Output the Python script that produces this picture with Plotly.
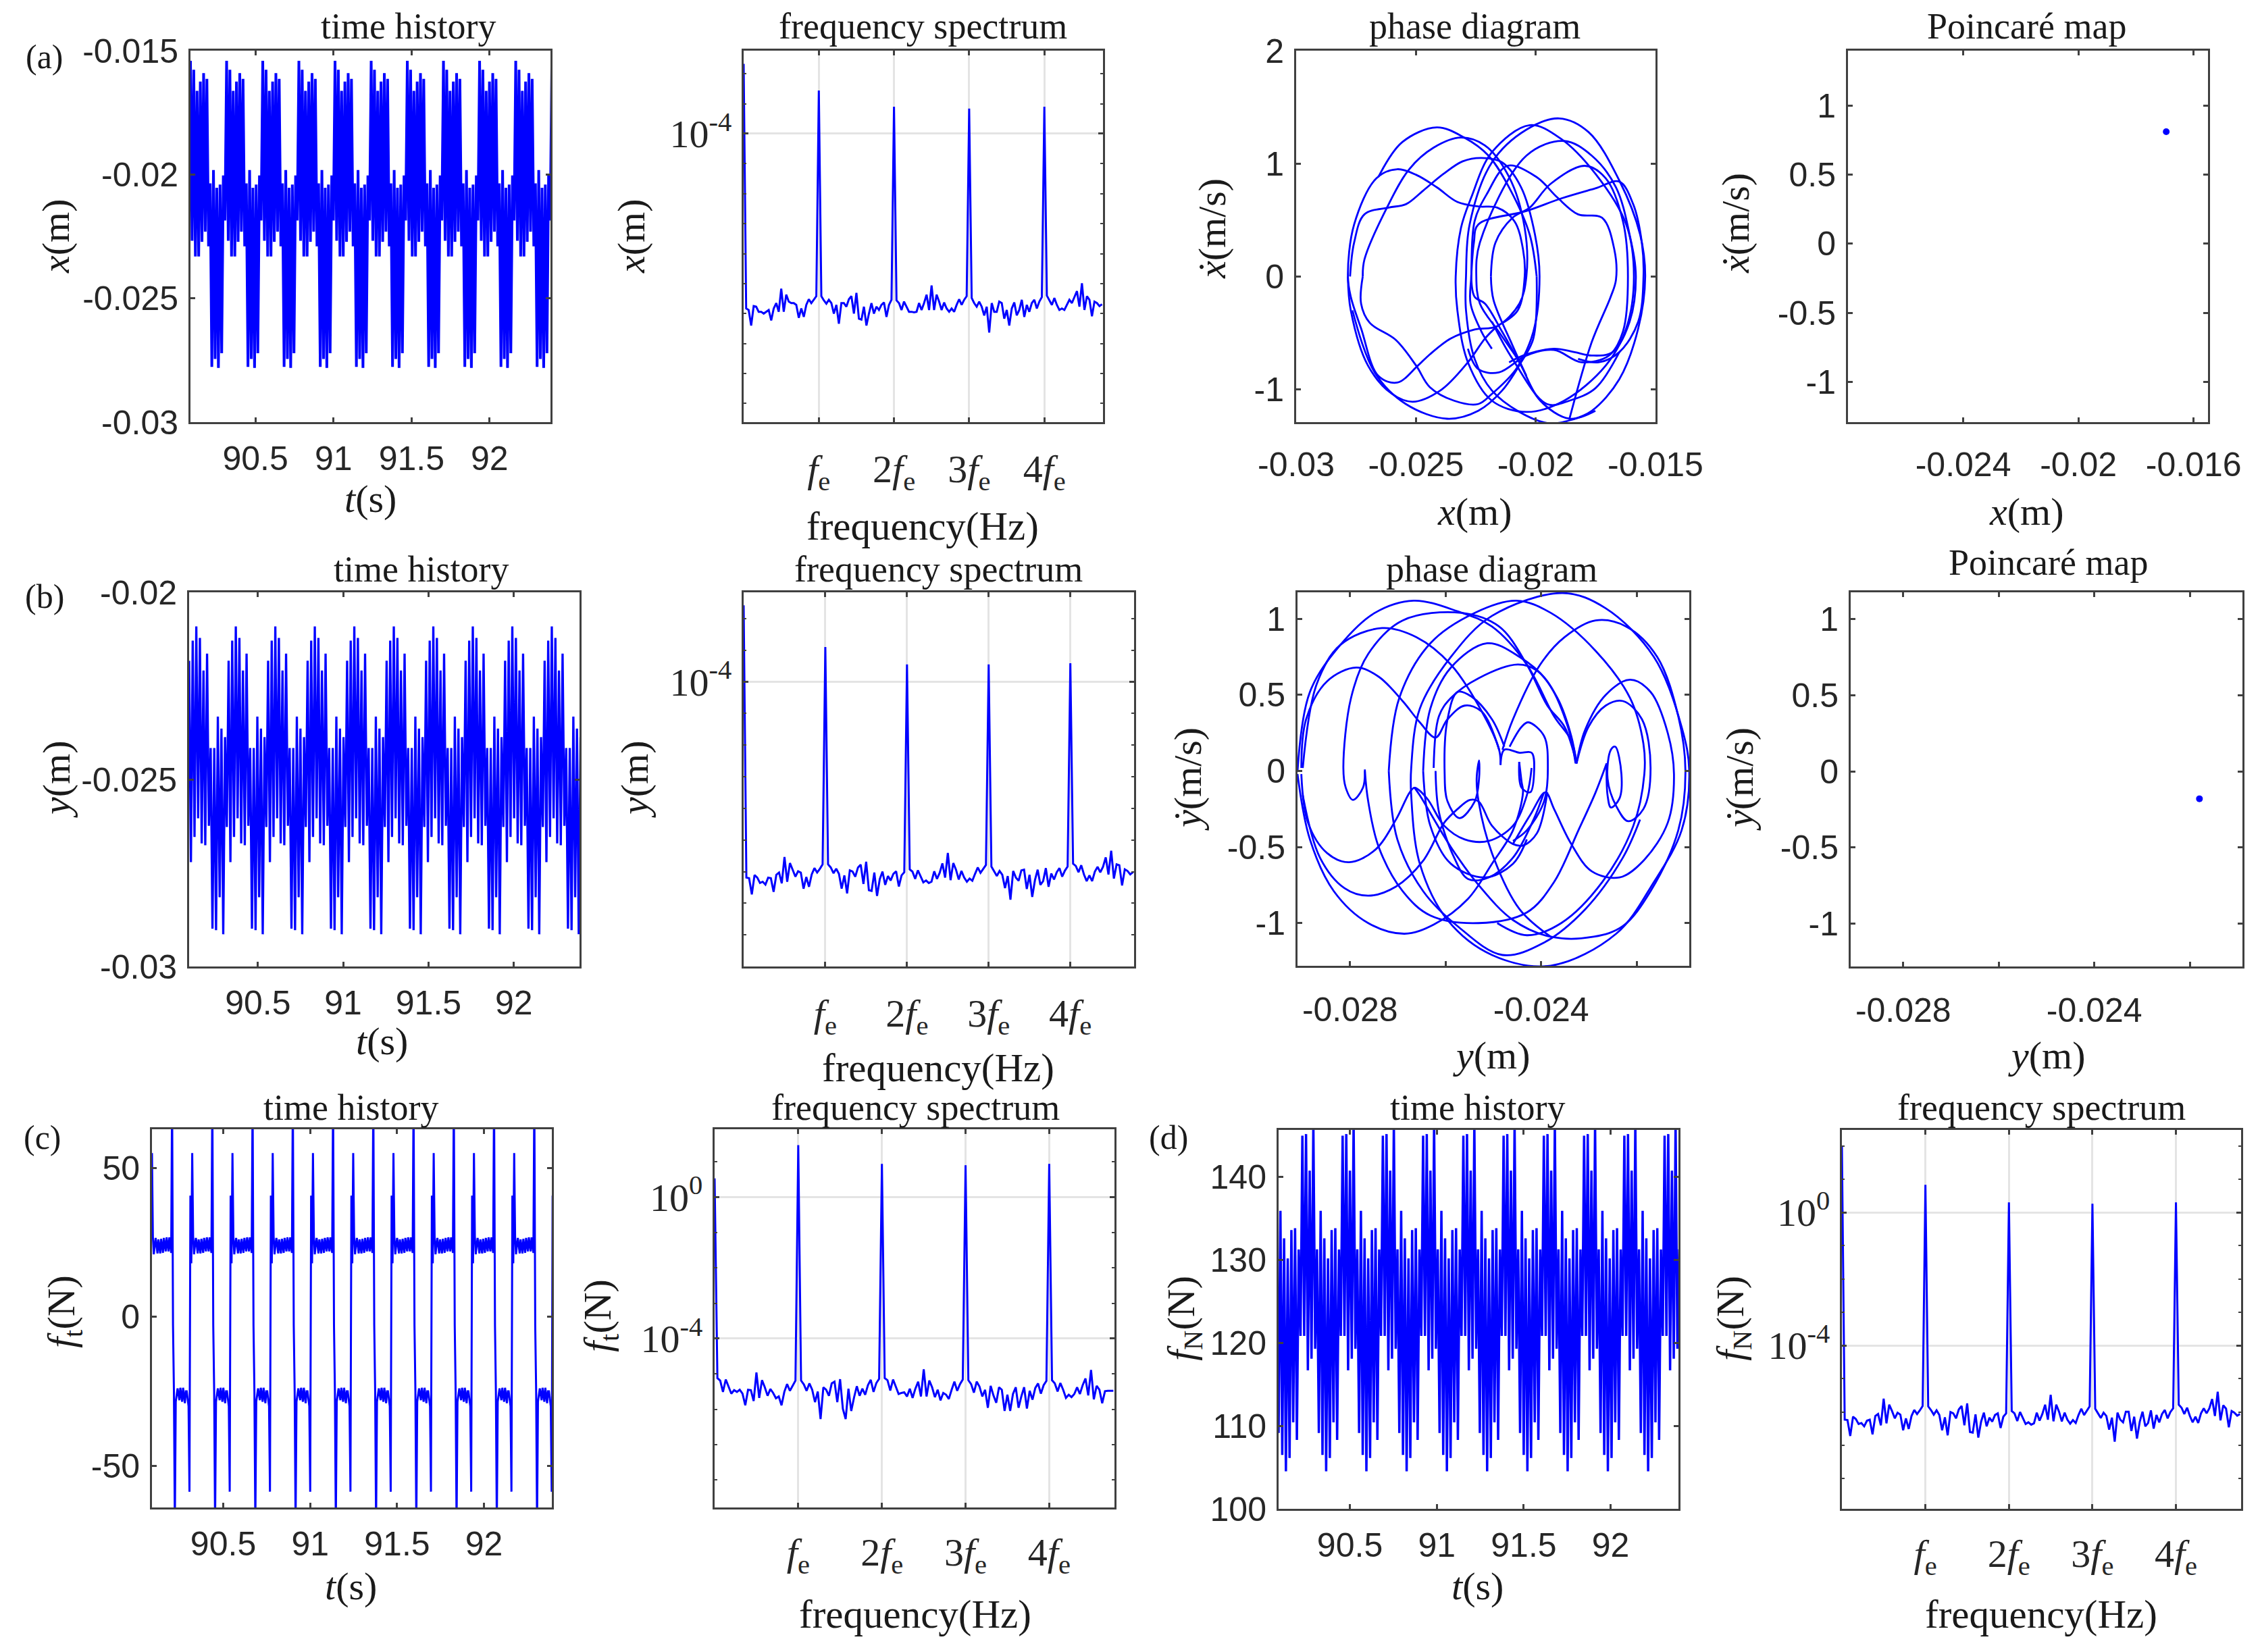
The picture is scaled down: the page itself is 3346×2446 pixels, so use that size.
import numpy as np
import plotly.graph_objects as go

W, H = 3330, 2430  # page is 3346x2446, the browser keeps an 8 px body margin
PAGE_MARGIN = 8
BLUE = '#0000ff'
AXIS = '#404040'
GRID = '#e4e4e4'
SANS = 'Liberation Sans'
SERIF = 'Liberation Serif'

# time histories: one period, the response repeats it
t_start = 90.09
period = 0.2315
n_periods = 10
x_period = [-0.01541, -0.02268, -0.01577, -0.02331, -0.01662, -0.02331, -0.01625, -0.02272, -0.01591, -0.02231, -0.01614,
            -0.02290, -0.02036, -0.02777, -0.01982, -0.02745, -0.02054, -0.02781, -0.02041, -0.02722, -0.02004, -0.02186]
y_period = [-0.02183, -0.02721, -0.02129, -0.02654, -0.02091, -0.02604, -0.02122, -0.02671, -0.02209, -0.02676, -0.02164,
            -0.02624, -0.02416, -0.02899, -0.02416, -0.02903, -0.02332, -0.02815, -0.02364, -0.02914, -0.02387, -0.02627]
ft_period = [55, 27, 21, 24, 26.5, 24, 21.3, 26, 24, 21.3, 26.2, 24, 21.5, 26.5, 24, 22, 26.7, 24, 22, 26.7, 24, 21.5,
             75, -2.9, -25, -70, -28.5, -26, -24, -26, -28, -23.8, -26, -28.5, -23.8, -26, -29, -25, -25, -27.5,
             -30, -58.7, 40.7, 18]
fn_period = [109.15, 135.95, 106.5, 132.63, 104.53, 130.2, 106.13, 133.63, 110.42, 133.84, 108.31,
             131.27, 120.85, 145.0, 120.85, 145.2, 116.7, 140.8, 118.1, 146.5, 119.3, 131.3]

# spectra: log10 of the amplitude, 30 bins per excitation frequency
fe = 1 / period
bins_per_fe = 30
log_amp_x = [-1.67,
    -9.83, -9.88, -10.40, -9.75, -9.77, -9.94, -9.94, -10.00, -9.94, -9.88, -10.23, -9.83, -9.65, -9.94, -9.17, -9.94, -9.37, -9.60, -9.65, -9.65, -9.71, -10.14, -9.83, -10.11, -9.71, -9.52, -9.65, -9.54, -9.42,
    -2.56,
    -9.42, -9.56, -9.67, -9.54, -9.65, -10.00, -9.71, -10.34, -9.65, -9.65, -9.77, -9.52, -9.42, -10.00, -9.31, -10.17, -10.20, -9.77, -10.40, -10.00, -9.65, -10.00, -9.77, -9.88, -9.71, -9.63, -10.11, -9.71, -9.54,
    -3.10,
    -9.56, -9.65, -9.88, -9.60, -9.77, -9.94, -9.94, -9.96, -9.94, -9.65, -9.88, -9.65, -9.37, -9.88, -9.06, -9.88, -9.37, -9.60, -9.88, -9.63, -9.83, -9.94, -9.83, -9.94, -9.71, -9.52, -9.71, -9.54, -9.42,
    -3.16,
    -9.48, -9.65, -9.77, -9.60, -9.77, -10.06, -9.77, -10.63, -9.65, -9.94, -9.94, -9.60, -9.65, -10.17, -9.88, -10.40, -9.83, -9.63, -10.06, -9.88, -9.54, -10.11, -9.71, -9.94, -9.65, -9.54, -9.83, -9.60, -9.45,
    -3.10,
    -9.40, -9.54, -9.71, -9.48, -9.71, -9.88, -9.83, -9.88, -9.71, -9.54, -9.65, -9.45, -9.25, -9.77, -8.99, -9.88, -9.42, -9.54, -10.09, -9.60, -9.65, -9.75, -9.69]
log_amp_y = [-1.58,
    -10.19, -10.21, -10.72, -10.11, -10.19, -10.36, -10.32, -10.41, -10.19, -10.21, -10.64, -10.10, -10.03, -10.37, -9.54, -10.32, -9.73, -9.94, -10.16, -9.99, -10.03, -10.54, -10.17, -10.48, -10.09, -9.89, -10.03, -9.91, -9.77,
    -2.90,
    -9.77, -9.87, -10.05, -9.91, -10.07, -10.54, -10.12, -10.69, -9.96, -10.00, -10.16, -9.87, -9.78, -10.39, -9.69, -10.59, -10.61, -10.03, -10.77, -10.24, -10.00, -10.42, -10.14, -10.28, -10.07, -9.99, -10.47, -10.12, -10.02,
    -3.45,
    -9.93, -10.00, -10.23, -9.96, -10.16, -10.34, -10.28, -10.36, -10.32, -9.99, -10.23, -10.04, -9.74, -10.19, -9.41, -10.27, -9.73, -9.94, -10.25, -9.98, -10.19, -10.32, -10.22, -10.29, -10.07, -9.87, -10.04, -9.91, -9.79,
    -3.45,
    -9.84, -9.99, -10.14, -9.98, -10.10, -10.52, -10.14, -10.89, -9.98, -10.19, -10.29, -9.96, -9.94, -10.55, -10.10, -10.80, -10.27, -9.94, -10.42, -10.30, -9.89, -10.48, -10.06, -10.25, -10.02, -9.89, -10.16, -9.97, -9.84,
    -3.41,
    -9.75, -9.82, -10.02, -9.80, -10.09, -10.30, -10.12, -10.30, -10.00, -9.85, -10.02, -9.85, -9.55, -10.09, -9.34, -10.22, -9.77, -9.80, -10.44, -9.93, -9.98, -10.09, -10.02]
log_amp_ft = [0.53,
    -5.12, -5.19, -5.51, -5.16, -5.35, -5.56, -5.46, -5.51, -5.45, -5.56, -5.89, -5.45, -5.46, -5.77, -4.96, -5.68, -5.18, -5.38, -5.62, -5.43, -5.54, -5.69, -5.64, -5.89, -5.51, -5.29, -5.48, -5.32, -5.19,
    1.47,
    -5.19, -5.30, -5.48, -5.27, -5.45, -5.80, -5.50, -6.28, -5.38, -5.45, -5.62, -5.27, -5.22, -5.80, -5.15, -5.99, -6.28, -5.42, -6.05, -5.67, -5.35, -5.62, -5.42, -5.59, -5.32, -5.17, -5.51, -5.26, -5.14,
    0.94,
    -5.12, -5.18, -5.47, -5.16, -5.38, -5.57, -5.54, -5.52, -5.64, -5.42, -5.68, -5.42, -5.22, -5.64, -4.87, -5.64, -5.19, -5.38, -5.66, -5.45, -5.75, -5.54, -5.59, -5.71, -5.45, -5.22, -5.48, -5.29, -5.16,
    0.90,
    -5.18, -5.29, -5.53, -5.22, -5.36, -5.64, -5.45, -5.96, -5.34, -5.61, -5.82, -5.38, -5.45, -6.05, -5.59, -6.05, -5.57, -5.38, -5.96, -5.64, -5.38, -5.98, -5.48, -5.73, -5.40, -5.27, -5.56, -5.32, -5.20,
    0.94,
    -5.18, -5.27, -5.50, -5.26, -5.45, -5.68, -5.59, -5.66, -5.57, -5.38, -5.57, -5.32, -5.13, -5.61, -4.89, -5.72, -5.34, -5.45, -5.83, -5.49, -5.48, -5.48, -5.48]
log_amp_fn = [2.0,
    -6.23, -6.24, -6.72, -6.14, -6.21, -6.36, -6.33, -6.43, -6.26, -6.23, -6.67, -6.12, -6.06, -6.40, -5.60, -6.34, -5.78, -5.97, -6.19, -6.02, -6.08, -6.55, -6.19, -6.51, -6.12, -5.94, -6.06, -5.95, -5.82,
    0.83,
    -5.83, -5.94, -6.08, -5.95, -6.09, -6.55, -6.16, -6.70, -6.00, -6.04, -6.19, -5.92, -5.82, -6.40, -5.74, -6.60, -6.62, -6.07, -6.77, -6.29, -6.02, -6.43, -6.17, -6.29, -6.09, -6.04, -6.48, -6.14, -6.04,
    0.30,
    -5.97, -6.04, -6.27, -6.00, -6.19, -6.36, -6.31, -6.38, -6.34, -6.02, -6.26, -6.06, -5.78, -6.23, -5.48, -6.28, -5.78, -5.99, -6.28, -6.02, -6.23, -6.35, -6.24, -6.33, -6.09, -5.90, -6.09, -5.95, -5.83,
    0.26,
    -5.90, -6.04, -6.18, -6.02, -6.12, -6.53, -6.17, -6.89, -6.02, -6.23, -6.31, -5.99, -5.99, -6.57, -6.14, -6.80, -6.29, -5.99, -6.43, -6.33, -5.95, -6.50, -6.09, -6.31, -6.06, -5.94, -6.19, -6.00, -5.89,
    0.30,
    -5.78, -5.87, -6.06, -5.87, -6.12, -6.31, -6.14, -6.33, -6.04, -5.89, -6.04, -5.89, -5.61, -6.12, -5.39, -6.25, -5.80, -5.90, -6.46, -5.97, -6.02, -6.11, -6.06]

# phase diagrams, traced arc by arc, None separates the arcs
phase_x = [
    -.02722, -.02715, -.02621, -.02528, -.02427, -.02312, -.02212, -.02111, -.02046, -.02039, -.02068, -.02161, -.02255, -.02355, -.02442, -.02492, -.02578, -.02657, -.02729, -.02772, -.02784, -.02758, -.02665, -.02578, -.02499, -.02413, -.02327, -.02240, -.02161, -.02089, -.02053, -.02046, -.02075, -.02154, None,
    -.02775, -.02758, -.02715, -.02614, -.02542, -.02470, -.02384, -.02305, -.02226, -.02140, -.02061, -.02003, -.01984, -.02010, -.02082, -.02183, -.02240, -.02341, -.02442, -.02499, -.02585, -.02693, -.02729, -.02722, None,
    -.02784, -.02772, -.02700, -.02600, -.02514, -.02398, -.02283, -.02212, -.02161, None,
    -.02765, -.02672, -.02542, -.02370, -.02240, -.02140, -.02061, -.02010, -.01996, None,
    -.02657, -.02557, -.02413, -.02298, -.02197, -.02104, -.02025, -.01996, None,
    -.02334, -.02312, -.02269, -.02183, -.02025, -.01895, -.01751, -.01622, -.01590, -.01622, -.01708, -.01881, -.02039, -.02183, -.02283, -.02327, -.02334, None,
    -.02291, -.02276, -.02183, -.02039, -.01902, -.01780, -.01651, -.01564, -.01543, -.01572, -.01651, -.01766, -.01852, -.01946, -.02068, -.02183, -.02255, -.02291, -.02291, None,
    -.02183, -.02226, -.02272, -.02269, -.02255, -.02204, -.02118, -.01996, -.01910, -.01823, -.01723, -.01672, -.01665, -.01687, -.01766, -.01859, None,
    -.02269, -.02258, -.02240, -.02039, -.01895, -.01751, -.01651, -.01593, -.01557, -.01550, -.01572, -.01651, -.01737, -.01823, None,
    -.02187, -.02168, -.02097, -.02025, -.01938, -.01795, -.01708, -.01636, -.01615, -.01636, -.01694, -.01809, -.01924, -.02039, -.02154, -.02240, -.02283, None,
    -.02075, -.02154, -.02233, -.02248, -.02233, -.02039, -.01881, -.01766, -.01665, -.01608, -.01582, -.01608, -.01679, -.01766, -.01838, -.01924, -.02039, -.02111, None,
    -.02183, -.02097, -.01953, -.01859, -.01751, -.01651, None,
    -.02269, -.02255, -.02212, -.02140, -.02061, -.01981, -.01859, -.01751, None,
    -.02187, -.02176, -.02097, -.02039]
phase_xdot = [
    0, .15, .61, .95, 1.14, 1.23, 1.16, .88, .43, 0, -.24, -.44, -.47, -.55, -.69, -.79, -.94, -.88, -.46, -.18, 0, .46, .87, .95, .90, .79, .66, .62, .61, .49, .24, 0, -.30, -.43, None,
    0, .30, .55, .61, .64, .76, .91, 1.02, 1.05, 1.01, .79, .37, 0, -.49, -.82, -1.04, -1.13, -1.10, -.98, -.79, -.56, -.41, -.24, 0, None,
    0, -.30, -.79, -1.04, -1.11, -1.01, -.76, -.55, -.44, None,
    -.30, -.85, -1.13, -1.26, -1.19, -1.01, -.76, -.55, 0, None,
    .88, 1.19, 1.32, 1.23, 1.07, .76, .37, 0, None,
    0, .43, .70, 1.10, 1.34, 1.22, .91, .46, 0, -.46, -.79, -1.10, -1.20, -1.10, -.76, -.30, 0, None,
    0, .46, 1.01, 1.30, 1.40, 1.28, .85, .37, 0, -.46, -.91, -1.19, -1.27, -1.30, -1.20, -1.01, -.73, -.30, 0, None,
    -.64, -.49, -.24, 0, .49, .73, .98, .88, .70, .55, .52, .24, -.03, -.18, -.58, -1.26, None,
    0, .30, .46, .58, .69, .78, .84, .64, .30, 0, -.40, -.67, -.76, -.73, None,
    0, .30, .52, .61, .82, .98, .87, .49, 0, -.49, -.70, -.76, -.65, -.70, -.85, -.82, -.64, None,
    -.73, -.49, -.24, 0, .30, 1.07, 1.20, 1.07, .79, .37, 0, -.40, -.67, -.70, -.67, -.64, -.69, -.76, None,
    -.40, -.73, -1.13, -1.10, -.99, -.67, None,
    0, -.18, -.24, -.49, -.79, -1.10, -1.26, -1.19, None,
    0, -.21, -.61, -.88]
phase_y = [
    -.02769, -.02773, -.02794, -.02809, -.02814, -.02798, -.02762, -.02690, -.02567, -.02488, -.02430, -.02387, -.02351, -.02326, None,
    -.02910, -.02884, -.02820, -.02748, -.02667, -.02575, -.02503, -.02430, -.02373, -.02337, -.02326, None,
    -.02899, -.02870, -.02820, -.02733, -.02661, -.02589, -.02524, -.02488, -.02485, None,
    -.02902, -.02892, -.02848, -.02787, -.02740, -.02690, -.02654, -.02621, -.02596, -.02560, -.02524, -.02488, None,
    -.02902, -.02888, -.02848, -.02802, -.02748, -.02704, -.02675, -.02665, -.02639, -.02603, -.02560, -.02510, -.02459, -.02430, -.02420, None,
    -.02899, -.02863, -.02812, -.02762, -.02704, -.02647, -.02603, -.02575, -.02549, -.02531, -.02503, -.02459, -.02438, -.02409, -.02387, None,
    -.02910, -.02884, -.02834, -.02762, -.02686, -.02625, -.02553, -.02503, -.02459, -.02438, -.02441, -.02446, None,
    -.02769, -.02762, -.02740, -.02690, -.02632, -.02531, -.02430, -.02373, -.02322, -.02286, -.02263, None,
    -.02672, -.02654, -.02589, -.02503, -.02355, -.02265, -.02164, -.02106, -.02090, -.02106, -.02164, -.02243, -.02380, -.02503, -.02596, -.02654, -.02672, -.02672, None,
    -.02481, -.02459, -.02402, -.02351, -.02286, -.02222, -.02157, -.02113, -.02098, -.02113, -.02171, -.02229, -.02290, -.02380, -.02459, -.02531, -.02589, -.02654, -.02665, None,
    -.02326, -.02308, -.02265, -.02214, -.02171, -.02135, -.02122, -.02135, -.02186, -.02236, -.02294, -.02337, -.02373, -.02391, -.02423, -.02459, None,
    -.02326, -.02301, -.02265, -.02229, -.02189, -.02171, -.02186, -.02218, -.02243, -.02261, -.02254, -.02245, -.02232, -.02236, -.02254, -.02261, -.02263, None,
    -.02647, -.02632, -.02589, -.02513, -.02445, -.02387, -.02344, -.02328, None,
    -.02625, -.02614, -.02589, -.02531, -.02449, -.02409, -.02366, -.02337, -.02326, None,
    -.02621, -.02614, -.02582, -.02553, -.02510, -.02459, -.02416, -.02394, None,
    -.02647, -.02632, -.02589, -.02517, -.02459, -.02430, None,
    -.02477, -.02503, -.02546, -.02575, -.02596, -.02602, -.02596, -.02571, -.02539, -.02530, -.02530, -.02535, -.02531, -.02503, -.02445, -.02380, None,
    -.02485, -.02477, -.02445, -.02420, -.02415, -.02423, -.02441, -.02446, None,
    -.02466, -.02441, -.02427, -.02394, -.02386, -.02394, -.02430, -.02459, None,
    -.02719, -.02697, -.02632, -.02539, -.02452, -.02380, -.02286, -.02214, -.02186, -.02184, -.02207, -.02272, -.02358, -.02430, -.02492, None,
    -.02719, -.02701, -.02647, -.02575, -.02481, -.02395, -.02308, -.02229, -.02193]
phase_ydot = [
    .01, -.11, -.19, -.11, .02, .48, .77, .99, 1.04, .95, .70, .43, .29, .05, None,
    0, .52, .83, 1.04, 1.12, 1.05, .95, .70, .36, .20, .05, None,
    .02, .57, .83, .94, .88, .70, .39, .14, .04, None,
    .02, .34, .59, .68, .62, .46, .32, .22, .34, .43, .39, .14, None,
    -.02, -.34, -.54, -.60, -.52, -.32, -.14, -.11, -.18, -.36, -.45, -.46, -.36, -.16, .02, None,
    -.16, -.57, -.77, -.82, -.76, -.59, -.34, -.25, -.19, -.20, -.36, -.48, -.49, -.41, -.14, None,
    -.02, -.45, -.79, -1.0, -1.07, -1.01, -.84, -.61, -.39, -.14, -.07, .06, None,
    0, -.20, -.50, -.79, -.95, -1.0, -.93, -.73, -.39, -.14, .05, None,
    .02, .41, .75, 1.02, 1.17, 1.07, .75, .29, 0, -.39, -.73, -1.07, -1.28, -1.21, -.98, -.61, -.16, .02, None,
    .14, .34, .70, .88, .99, .95, .75, .36, 0, -.39, -.79, -1.02, -1.09, -1.09, -.98, -.75, -.50, -.16, -.11, None,
    .05, .27, .50, .60, .52, .25, -.02, -.34, -.59, -.70, -.66, -.48, -.25, -.14, -.29, -.48, None,
    .05, .29, .43, .46, .34, .02, -.25, -.33, -.23, -.05, .14, .16, -.02, -.18, -.24, -.16, .05, None,
    0, .41, .68, .84, .75, .59, .29, .05, None,
    .02, .36, .48, .61, .70, .66, .48, .23, .05, None,
    0, -.27, -.57, -.71, -.70, -.57, -.32, -.14, None,
    0, -.36, -.61, -.70, -.61, -.45, None,
    .16, .34, .49, .52, .34, -.02, -.20, -.31, -.20, -.05, .07, -.05, -.20, -.54, -.91, -1.09, None,
    .04, .14, .12, .12, -.02, -.14, -.11, .06, None,
    .16, .29, .32, .23, .02, -.20, -.39, -.46, None,
    0, .48, .84, 1.04, 1.12, 1.04, .79, .48, .18, -.02, -.36, -.73, -1.0, -1.08, -1.0, None,
    0, -.45, -.79, -1.02, -1.21, -1.13, -.91, -.57, -.32]

# Poincare points
poincare_x = [-0.01695]
poincare_xdot = [0.81]
poincare_y = [-0.0218]
poincare_ydot = [-0.18]

# tick labels
time_ticks = [90.5, 91, 91.5, 92]
time_labels = ['90.5', '91', '91.5', '92']
fe_labels = ['<i>f</i><sub>e</sub>', '2<i>f</i><sub>e</sub>', '3<i>f</i><sub>e</sub>', '4<i>f</i><sub>e</sub>']
y_phase_ticks = [-0.028, -0.026, -0.024, -0.022]
y_phase_labels = ['-0.028', '', '-0.024', '']


def time_series(values, start=t_start):
    n = len(values) * n_periods + 1
    return start + period * np.arange(n) / len(values), values * n_periods + values[:1]


def spectrum(log_amp):
    return np.arange(len(log_amp)) * fe / bins_per_fe, 10 ** np.array(log_amp)


fe_ticks = [fe, 2 * fe, 3 * fe, 4 * fe]
fe_range = [0, 4.78 * fe]
TIME_RANGE = [90.09, 92.39]

# box in reference pixels (left, right, top, bottom)
panels = [
    dict(box=(282, 815, 75, 625), data=time_series(x_period, 90.084), lw=4, xr=[90.084, 92.39], yr=[-0.03, -0.015], gap=8,
         xt=(time_ticks, time_labels), yt=([-0.03, -0.025, -0.02, -0.015], ['-0.03', '-0.025', '-0.02', '-0.015'])),
    dict(box=(1101, 1633, 75, 625), data=spectrum(log_amp_x), log=True, yr=[-13.62, -1.23], major=[-4], gap=16),
    dict(box=(1919, 2451, 75, 625), data=(phase_x, phase_xdot), spline=True, xr=[-0.03, -0.015], yr=[-1.29, 2], gap=17,
         xt=([-0.03, -0.025, -0.02, -0.015], ['-0.03', '-0.025', '-0.02', '-0.015']), yt=([-1, 0, 1, 2], ['-1', '0', '1', '2'])),
    dict(box=(2736, 3269, 75, 625), data=(poincare_x, poincare_xdot), marker=True, xr=[-0.028, -0.0155], yr=[-1.29, 1.396], gap=17,
         xt=([-0.024, -0.02, -0.016], ['-0.024', '-0.02', '-0.016']),
         yt=([-1, -0.5, 0, 0.5, 1], ['-1', '-0.5', '0', '0.5', '1'])),
    dict(box=(280, 858, 877, 1431), data=time_series(y_period, 90.097), lw=3.3, xr=[90.097, 92.385], yr=[-0.03, -0.02], gap=8,
         xt=(time_ticks, time_labels), yt=([-0.03, -0.025, -0.02], ['-0.03', '-0.025', '-0.02'])),
    dict(box=(1101, 1679, 877, 1431), data=spectrum(log_amp_y), log=True, yr=[-13.0, -1.17], major=[-4], gap=16),
    dict(box=(1921, 2501, 877, 1430), data=(phase_y, phase_ydot), spline=True, xr=[-0.0291, -0.0209], yr=[-1.281, 1.175], gap=19,
         xt=(y_phase_ticks, y_phase_labels), yt=([-1, -0.5, 0, 0.5, 1], ['-1', '-0.5', '0', '0.5', '1'])),
    dict(box=(2740, 3320, 877, 1431), data=(poincare_y, poincare_ydot), marker=True, xr=[-0.0291, -0.0209], yr=[-1.281, 1.175], gap=19,
         xt=(y_phase_ticks, y_phase_labels), yt=([-1, -0.5, 0, 0.5, 1], ['-1', '-0.5', '0', '0.5', '1'])),
    dict(box=(225, 817, 1672, 2232), data=time_series(ft_period), lw=3, xr=TIME_RANGE, yr=[-64, 63], gap=8,
         xt=(time_ticks, time_labels), yt=([-50, 0, 50], ['-50', '0', '50'])),
    dict(box=(1058, 1650, 1672, 2232), data=spectrum(log_amp_ft), log=True, yr=[-8.78, 1.92], major=[-4, 0], gap=13),
    dict(box=(1893, 2485, 1673, 2234), data=time_series(fn_period), lw=3.5, xr=TIME_RANGE, yr=[100, 145.7], gap=8,
         xt=(time_ticks, time_labels), yt=([100, 110, 120, 130, 140], ['100', '110', '120', '130', '140'])),
    dict(box=(2727, 3318, 1673, 2234), data=spectrum(log_amp_fn), log=True, yr=[-8.91, 2.48], major=[-4, 0], gap=13),
]

# free text in reference pixels: x, y, text, size, angle
T = 'time history'
F = 'frequency spectrum'
P = 'phase diagram'
M = 'Poincaré map'
HZ = 'frequency(Hz)'
texts = [
    (604, 39, T, 54, 0), (1366, 39, F, 54, 0), (2183, 39, P, 54, 0), (3000, 39, M, 54, 0),
    (623, 843, T, 54, 0), (1389, 843, F, 54, 0), (2208, 843, P, 54, 0), (3032, 833, M, 54, 0),
    (519, 1640, T, 54, 0), (1355, 1640, F, 54, 0), (2187, 1640, T, 54, 0), (3022, 1640, F, 54, 0),
    (66, 84, '(a)', 50, 0), (66, 883, '(b)', 50, 0), (63, 1684, '(c)', 50, 0), (1730, 1684, '(d)', 50, 0),
    (548, 738, '<i>t</i>(s)', 58, 0), (1366, 779, HZ, 59, 0), (2183, 757, '<i>x</i>(m)', 58, 0), (3000, 757, '<i>x</i>(m)', 58, 0),
    (565, 1541, '<i>t</i>(s)', 58, 0), (1389, 1581, HZ, 59, 0), (2208, 1562, '<i>y</i>(m)', 58, 0), (3030, 1562, '<i>y</i>(m)', 58, 0),
    (519, 2348, '<i>t</i>(s)', 58, 0), (1355, 2390, HZ, 59, 0), (2187, 2348, '<i>t</i>(s)', 58, 0), (3022, 2390, HZ, 59, 0),
    (83, 350, '<i>x</i>(m)', 58, -90), (935, 350, '<i>x</i>(m)', 58, -90), (1795, 339, '<i>ẋ</i>(m/s)', 58, -90), (2570, 331, '<i>ẋ</i>(m/s)', 58, -90),
    (83, 1154, '<i>y</i>(m)', 58, -90), (939, 1154, '<i>y</i>(m)', 58, -90), (1758, 1154, '<i>ẏ</i>(m/s)', 58, -90), (2575, 1154, '<i>ẏ</i>(m/s)', 58, -90),
    (95, 1942, '<i>f</i><sub>t</sub>(N)', 58, -90), (888, 1948, '<i>f</i><sub>t</sub>(N)', 58, -90),
    (1752, 1952, '<i>f</i><sub>N</sub>(N)', 58, -90), (2565, 1952, '<i>f</i><sub>N</sub>(N)', 58, -90),
]

fig = go.Figure()
axis_style = dict(showline=True, mirror='ticks', linecolor=AXIS, linewidth=3, ticks='inside', ticklen=7, tickwidth=2.5,
                  tickcolor=AXIS, zeroline=False, showgrid=False, tickmode='array', automargin=False)
layout = {}

for i, p in enumerate(panels, start=1):
    left, right, top, bottom = (v - PAGE_MARGIN for v in p['box'])
    xs, ys = p['data']
    trace = dict(x=xs, y=ys, xaxis=f'x{i}', yaxis=f'y{i}', showlegend=False, hoverinfo='skip')
    if p.get('marker'):
        fig.add_trace(go.Scatter(mode='markers', marker=dict(color=BLUE, size=10), **trace))
    elif p.get('spline'):
        fig.add_trace(go.Scatter(mode='lines', line=dict(color=BLUE, width=2.8, shape='spline', smoothing=1.0), **trace))
    else:
        fig.add_trace(go.Scatter(mode='lines', line=dict(color=BLUE, width=p.get('lw', 3)), **trace))

    xaxis = dict(axis_style, anchor=f'y{i}', domain=[left / W, right / W], ticklabelstandoff=p['gap'],
                 tickfont=dict(family=SANS, size=50, color='#262626'))
    yaxis = dict(axis_style, anchor=f'x{i}', domain=[1 - bottom / H, 1 - top / H], range=p['yr'], ticklabelstandoff=5,
                 tickfont=dict(family=SANS, size=50, color='#262626'))
    if p.get('log'):
        xaxis.update(range=fe_range, tickvals=fe_ticks, ticktext=fe_labels, showgrid=True, gridcolor=GRID, gridwidth=3,
                     tickfont=dict(family=SERIF, size=58, color='#262626'))
        lo, hi = int(np.ceil(p['yr'][0])), int(np.floor(p['yr'][1]))
        yaxis.update(type='log', tickvals=[10.0 ** m for m in p['major']], ticklabelstandoff=3,
                     ticktext=[f'10<sup>{m}</sup>' for m in p['major']], showgrid=True, gridcolor=GRID, gridwidth=3,
                     tickfont=dict(family=SERIF, size=58, color='#262626'),
                     minor=dict(tickmode='array', tickvals=[10.0 ** m for m in range(lo, hi + 1)], ticks='inside',
                                ticklen=4, tickwidth=2, tickcolor=AXIS, showgrid=False))
    else:
        xaxis.update(range=p['xr'], tickvals=p['xt'][0], ticktext=p['xt'][1])
        yaxis.update(tickvals=p['yt'][0], ticktext=p['yt'][1])
    layout[f'xaxis{i}'] = xaxis
    layout[f'yaxis{i}'] = yaxis

annotations = [dict(x=(x - PAGE_MARGIN) / W, y=1 - (y - PAGE_MARGIN) / H, xref='paper', yref='paper', text=s,
                    showarrow=False, textangle=a, xanchor='center', yanchor='middle',
                    font=dict(family=SERIF, size=size, color='#1a1a1a'))
               for x, y, s, size, a in texts]

fig.update_layout(width=W, height=H, margin=dict(l=0, r=0, t=0, b=0, pad=0, autoexpand=False), autosize=False,
                  plot_bgcolor='white', paper_bgcolor='white', annotations=annotations, **layout)

fig.write_html("out.html")
